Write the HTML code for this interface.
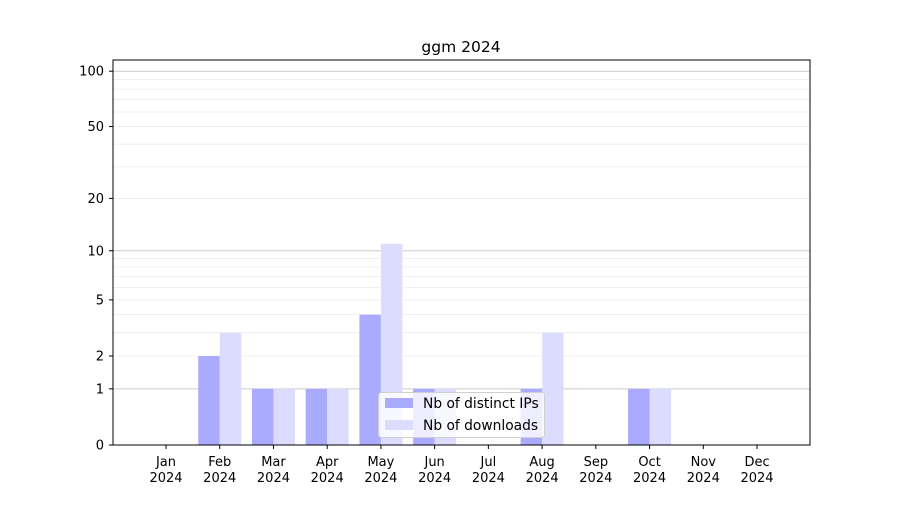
<!DOCTYPE html>
<html><head><meta charset="utf-8"><style>
body{margin:0;background:#fff;font-family:"Liberation Sans","DejaVu Sans",sans-serif}
svg text{font-family:"DejaVu Sans","Liberation Sans",sans-serif;font-size:13px;fill:#000}
</style></head><body>
<svg id="s" width="900" height="500" xmlns="http://www.w3.org/2000/svg">
<rect width="900" height="500" fill="#fff"/>
</svg>
<script>
var s=document.getElementById('s'),h='';
function Y(v){return 445-186.5*Math.log10(v+1);}
var minors=[2,3,4,5,6,7,8,9,20,30,40,50,60,70,80,90];
minors.forEach(function(v){var y=Y(v).toFixed(1);h+='<line x1="113" x2="810" y1="'+y+'" y2="'+y+'" stroke="#ebebeb" stroke-width="0.8"/>';});
[1,10,100].forEach(function(v){var y=Y(v).toFixed(1);h+='<line x1="113" x2="810" y1="'+y+'" y2="'+y+'" stroke="#cccccc" stroke-width="1"/>';});
var ip=[0,2,1,1,4,1,0,1,0,1,0,0],dl=[0,3,1,1,11,1,0,3,0,1,0,0];
for(var i=0;i<12;i++){var c=166+i*53.73;
 if(ip[i]){var y=Y(ip[i]);h+='<rect x="'+(c-21.5)+'" y="'+y+'" width="21.5" height="'+(445-y)+'" fill="#aaaaff"/>';}
 if(dl[i]){var y=Y(dl[i]);h+='<rect x="'+c+'" y="'+y+'" width="21.5" height="'+(445-y)+'" fill="#dcdcff"/>';}
}
h+='<rect x="113" y="60" width="697" height="385" fill="none" stroke="#000" stroke-width="1"/>';
var tk=[0,1,2,5,10,20,50,100];
tk.forEach(function(v){var y=Y(v);h+='<line x1="109" x2="113" y1="'+y+'" y2="'+y+'" stroke="#000"/><text x="104" y="'+(y+4.5)+'" text-anchor="end">'+v+'</text>';});
var m=['Jan','Feb','Mar','Apr','May','Jun','Jul','Aug','Sep','Oct','Nov','Dec'];
for(var i=0;i<12;i++){var c=166+i*53.73;h+='<line x1="'+c+'" x2="'+c+'" y1="445" y2="449" stroke="#000"/><text x="'+c+'" y="466" text-anchor="middle">'+m[i]+'</text><text x="'+c+'" y="482" text-anchor="middle">2024</text>';}
h+='<text x="461" y="52" text-anchor="middle" style="font-size:15.5px">ggm 2024</text>';
h+='<rect x="378.5" y="392.5" width="166" height="45" rx="3" fill="#fff" fill-opacity="0.8" stroke="#d0d0d0"/>';
h+='<rect x="385" y="398" width="28" height="10" fill="#aaaaff"/><text x="423" y="408" style="font-size:13.8px">Nb of distinct IPs</text>';
h+='<rect x="385" y="420" width="28" height="10" fill="#dcdcff"/><text x="423" y="430" style="font-size:13.8px">Nb of downloads</text>';
s.innerHTML+=h;
</script>
</body></html>
